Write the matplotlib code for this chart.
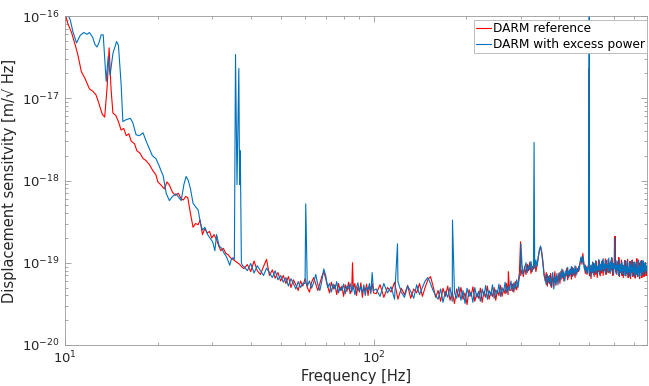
import numpy as np
import matplotlib
matplotlib.use("Agg")
import matplotlib.pyplot as plt
from matplotlib.ticker import FixedLocator, LogLocator, NullFormatter

# Valores em unidades de 1e-20 m/sqrt(Hz)
UNIT = 1e-20

# ---- baixa frequencia (10 - 37.6 Hz) ----
ref_low_f = [10.0, 10.2, 10.5, 10.8, 11.0, 11.3, 11.6, 12.0, 12.3, 12.6, 12.9, 13.2,
             13.45, 13.7, 13.9, 14.1, 14.3, 14.6, 14.9, 15.2, 15.5, 15.8, 16.1, 16.4,
             16.8, 17.1, 17.5, 17.9, 18.3, 18.8, 19.3, 19.7, 20.0, 20.3, 20.7, 21.0,
             21.4, 21.8, 22.3, 22.8, 23.3, 23.8, 24.2, 24.6, 25.0, 25.5, 26.0, 26.5,
             27.0, 27.4, 27.9, 28.4, 28.9, 29.4, 29.9, 30.4, 31.0, 31.5, 32.0, 32.6,
             33.2, 33.8, 34.4, 35.0, 35.6, 36.2, 36.8, 37.4]
ref_low_v = [11000, 8200, 6300, 4400, 3400, 2100, 1750, 1300, 1220, 1100, 850, 640,
             590, 1400, 4100, 1300, 660, 620, 520, 410, 430, 350, 370, 300,
             280, 230, 215, 185, 175, 155, 130, 118, 96, 91, 84, 79,
             96, 88, 72, 66, 70, 60, 58, 64, 62, 40, 27, 30,
             29, 33, 22, 26, 23, 24, 20, 22, 19, 16, 14, 15,
             13, 12.5, 11.5, 11, 10.5, 10, 9.6, 8.9]

exc_low_f = [10.0, 10.2, 10.4, 10.6, 10.9, 11.2, 11.5, 11.8, 12.0, 12.3, 12.5, 12.7,
             12.9, 13.1, 13.3, 13.6, 13.8, 14.0, 14.3, 14.7, 14.9, 15.2, 15.4, 15.8,
             16.3, 16.6, 17.0, 17.4, 17.9, 18.4, 18.8, 19.2, 19.7, 20.2, 20.5, 20.8,
             21.3, 21.8, 22.3, 22.9, 23.4, 23.8, 24.3, 24.7, 25.1, 25.5, 26.0, 26.5,
             27.0, 27.5, 27.9, 28.4, 29.0, 29.5, 30.1, 30.6, 31.0, 31.6, 32.2, 32.8,
             33.3, 33.8, 34.2, 34.6, 35.0, 35.4, 35.7, 36.1, 36.6, 36.8, 37.0, 37.3,
             37.6]
exc_low_v = [14000, 10500, 9000, 6500, 4700, 5800, 6300, 6000, 6300, 5500, 4500, 4200,
             4800, 5900, 5900, 1600, 3200, 1900, 3500, 4900, 4400, 1500, 520, 550,
             570, 500, 360, 350, 380, 290, 240, 200, 185, 150, 130, 115,
             69, 57, 64, 69, 62, 57, 90, 112, 100, 80, 53, 48,
             44, 30, 25, 27, 22, 20, 18, 14, 22, 16, 15, 13,
             12, 10.5, 9.3, 11, 11.5, 11, 3400, 89, 2300, 89, 230, 10,
             9.2]

# ---- faixa media: bins de 1 Hz, 38 - 100 Hz ----
mid_f = np.arange(38, 101, 1)
ref_mid_v = [8.5, 9.5, 7.8, 10.5, 8.0, 7.2, 9.0, 11.0, 7.0, 8.2, 6.5, 7.6, 6.0,
             7.0, 5.6, 6.8, 5.0, 6.2, 5.4, 4.6, 6.0, 5.2, 6.4, 5.0, 4.4, 5.8,
             6.6, 5.5, 4.6, 5.6, 6.8, 7.8, 6.4, 5.2, 4.3, 5.8, 4.8, 5.4, 4.1,
             5.6, 4.6, 5.2, 3.9, 5.4, 4.5, 5.8, 4.2, 4.8, 4.8, 5.6, 4.0, 5.1,
             4.4, 5.7, 3.8, 5.0, 4.6, 5.5, 4.0, 5.2, 4.5, 5.6, 4.3]
exc_mid_v = [9.0, 8.0, 9.8, 7.5, 9.2, 8.0, 7.0, 8.6, 7.6, 6.6, 8.0, 6.2, 7.0,
             5.8, 6.6, 5.2, 6.4, 5.6, 4.8, 5.9, 5.0, 5.6, 5.6, 5.2, 6.0, 4.9,
             5.8, 7.2, 5.4, 4.6, 6.0, 8.4, 7.0, 5.0, 5.6, 4.4, 5.5, 4.8, 5.9,
             4.3, 5.0, 4.6, 5.5, 4.2, 5.2, 4.8, 5.6, 4.4, 5.3, 4.1, 5.0, 5.7,
             4.5, 5.1, 4.3, 5.4, 4.0, 5.0, 4.7, 5.6, 4.2, 7.6, 4.6]

# ---- alta frequencia: bins de 3 Hz, 102 - 768 Hz ----
high_f = np.arange(102, 769, 3)
ref_high_v = [
    4.2, 5.4, 3.8, 5.0, 4.4, 5.8, 3.6, 4.9, 4.1, 5.3,
    3.7, 4.8, 4.3, 5.6, 3.9, 5.0, 6.2, 6.8, 5.2, 3.8,
    4.6, 3.4, 4.9, 3.9, 5.2, 3.5, 4.4, 3.2, 4.8, 3.8,
    5.0, 3.6, 4.3, 3.1, 4.7, 3.9, 5.1, 3.4, 4.2, 3.7,
    4.9, 3.3, 4.5, 3.8, 5.2, 3.6, 4.4, 3.9, 5.0, 3.5,
    4.6, 4.0, 5.3, 3.9, 4.8, 4.2, 5.6, 4.1, 4.7, 4.6,
    5.5, 4.4, 5.9, 4.7, 5.6, 7.5, 7.0, 8.2, 6.8, 9.0,
    7.2, 9.6, 8.0, 10.2, 7.4, 9.0, 8.4, 10.5, 7.8, 9.4,
    11.5, 14.0, 15.5, 13.5, 10.5, 7.5, 6.0, 7.6, 5.2, 6.8,
    5.6, 7.4, 5.0, 6.6, 5.8, 7.8, 5.3, 6.9, 6.0, 7.5,
    5.6, 7.9, 6.4, 8.2, 6.0, 7.4, 6.8, 8.6, 6.2, 7.8,
    6.9, 8.4, 6.3, 8.8, 7.0, 8.1, 6.6, 9.0, 7.3, 8.5,
    7.8, 9.4, 10.2, 11.5, 9.6, 13.0, 10.4, 8.8, 7.4, 9.0,
    7.2, 8.6, 9.8, 7.0, 9.2, 6.4, 8.8, 7.6, 10.0, 6.8,
    9.4, 7.2, 10.4, 6.6, 8.6, 7.8, 10.6, 6.9, 9.2, 7.5,
    10.8, 7.0, 9.6, 8.0, 11.2, 7.2, 9.0, 8.4, 11.0, 7.6,
    9.8, 7.4, 10.6, 8.2, 11.4, 7.0, 9.4, 8.6, 12.0, 7.8,
    9.6, 7.2, 10.2, 8.0, 11.6, 6.8, 9.0, 7.6, 10.8, 7.0,
    9.4, 6.6, 8.8, 7.8, 10.6, 6.9, 9.2, 7.4, 11.0, 6.6,
    8.6, 7.2, 10.4, 6.4, 9.0, 7.6, 10.8, 6.8, 8.4, 7.0,
    10.2, 6.5, 9.2, 7.4, 11.2, 6.8, 8.6, 7.6, 10.0, 6.4,
    9.0, 7.8, 10.6, 6.6, 8.8, 7.2, 10.4, 6.8, 9.4, 7.6,
    10.0, 7.0, 8.8]
exc_high_v = [
    4.8, 3.9, 5.6, 4.3, 5.1, 3.6, 5.9, 4.4, 3.8, 5.2,
    4.5, 3.7, 5.4, 4.1, 5.0, 6.0, 6.6, 5.6, 4.6, 4.0,
    3.6, 4.8, 3.3, 4.5, 3.8, 5.0, 3.4, 4.3, 3.7, 5.1,
    3.5, 4.6, 3.2, 4.9, 3.9, 4.4, 3.3, 5.0, 3.8, 4.5,
    3.4, 4.8, 3.9, 5.3, 3.6, 4.6, 4.0, 5.4, 3.7, 4.7,
    4.2, 5.5, 3.9, 5.0, 4.4, 5.8, 4.3, 5.2, 4.6, 6.0,
    4.5, 5.7, 4.8, 6.2, 5.0, 6.6, 8.4, 9.4, 7.2, 8.6,
    10.0, 7.6, 9.2, 8.2, 10.4, 7.8, 9.6, 8.6, 10.8, 9.0,
    12.0, 14.5, 16.0, 13.0, 9.8, 7.0, 6.4, 5.4, 7.2, 5.8,
    7.0, 5.2, 6.4, 7.6, 4.8, 6.8, 5.6, 7.4, 5.4, 6.6,
    7.6, 6.2, 8.4, 6.6, 7.8, 6.0, 8.0, 7.0, 8.8, 6.6,
    8.2, 7.2, 9.0, 6.8, 8.6, 7.4, 9.2, 7.0, 8.4, 7.8,
    9.0, 8.2, 10.6, 11.8, 10.0, 12.0, 9.6, 8.2, 9.4, 7.6,
    8.8, 7.4, 9.6, 8.4, 6.8, 9.4, 7.8, 10.2, 7.2, 9.8,
    7.6, 10.6, 7.4, 9.0, 8.2, 11.0, 7.2, 9.6, 8.0, 10.4,
    7.8, 11.2, 8.4, 9.6, 7.4, 10.8, 8.8, 9.4, 7.6, 11.4,
    8.0, 10.0, 7.8, 11.6, 8.6, 9.8, 7.2, 10.8, 8.4, 9.2,
    7.4, 10.6, 8.2, 9.4, 7.0, 10.8, 7.8, 9.6, 7.4, 10.2,
    7.2, 9.2, 8.0, 10.6, 7.0, 9.0, 7.6, 10.4, 7.2, 8.8,
    7.8, 10.0, 6.8, 9.4, 7.6, 10.6, 7.0, 8.8, 7.8, 10.2,
    6.8, 9.6, 7.4, 10.2, 7.2, 8.6, 7.8, 10.8, 6.8, 9.2,
    7.6, 10.4, 7.0, 9.0, 7.8, 10.6, 7.2, 8.8, 8.0, 10.0,
    7.4, 9.2, 8.0]

# ---- linhas espectrais estreitas (picos) ----
ref_lines_f = [85.5, 273.5, 299.6, 500.0, 606.5]
ref_lines_v = [10, 7.8, 18, 2300, 21]
exc_lines_f = [60.3, 119.6, 180.3, 300.6, 331.5, 499.0, 500.4, 604.0]
exc_lines_v = [52, 17, 33, 17, 290, 550, 15000, 20]

x_ticks = [10, 100]
y_ticks = [1e-20, 1e-19, 1e-18, 1e-17, 1e-16]


def monta(f_low, v_low, v_mid, v_high, f_lines, v_lines):
    f = np.concatenate([f_low, mid_f, high_f, f_lines]).astype(float)
    v = np.concatenate([v_low, v_mid, v_high, v_lines]).astype(float)
    ordem = np.argsort(f, kind="stable")
    return f[ordem], v[ordem] * UNIT


f_ref, v_ref = monta(ref_low_f, ref_low_v, ref_mid_v, ref_high_v, ref_lines_f, ref_lines_v)
f_exc, v_exc = monta(exc_low_f, exc_low_v, exc_mid_v, exc_high_v, exc_lines_f, exc_lines_v)

# ---- PLOTAGEM ----
fig = plt.figure(figsize=(6.49, 3.86), dpi=100)
ax = fig.add_axes([65 / 649, 41 / 386, 582 / 649, 329 / 386])

ax.loglog(f_ref, v_ref, color="#ff0000", lw=0.8, label="DARM reference")
ax.loglog(f_exc, v_exc, color="#0072bd", lw=0.8, label="DARM with excess power")

ax.set_xlim(10, 770)
ax.set_ylim(1e-20, 1e-16)

ax.set_xlabel("Frequency [Hz]", fontsize=10.5, color="0.15", labelpad=2)
ax.set_ylabel("Displacement sensitvity [m/\u221a Hz]", fontsize=10.5, color="0.15", labelpad=4)

ax.xaxis.set_major_locator(FixedLocator(x_ticks))
ax.yaxis.set_major_locator(FixedLocator(y_ticks))
ax.yaxis.set_minor_locator(LogLocator(base=10, subs=np.arange(2, 10), numticks=20))
ax.xaxis.set_minor_formatter(NullFormatter())
ax.yaxis.set_minor_formatter(NullFormatter())

ax.tick_params(which="both", direction="in", top=True, right=True,
               color="0.6", labelcolor="0.15", labelsize=9.5, width=0.6)
ax.tick_params(which="major", length=4)
ax.tick_params(which="minor", length=2)
for sp in ax.spines.values():
    sp.set_color("0.6")
    sp.set_linewidth(0.6)

leg = ax.legend(loc="upper right", bbox_to_anchor=(1.0, 0.988), borderaxespad=0,
                fontsize=8.7, handlelength=1.2, handletextpad=0.15, labelspacing=0.2,
                borderpad=0.2, fancybox=False, framealpha=1, edgecolor="0.7")
leg.get_frame().set_linewidth(0.6)

fig.savefig("out.png", dpi=100)
